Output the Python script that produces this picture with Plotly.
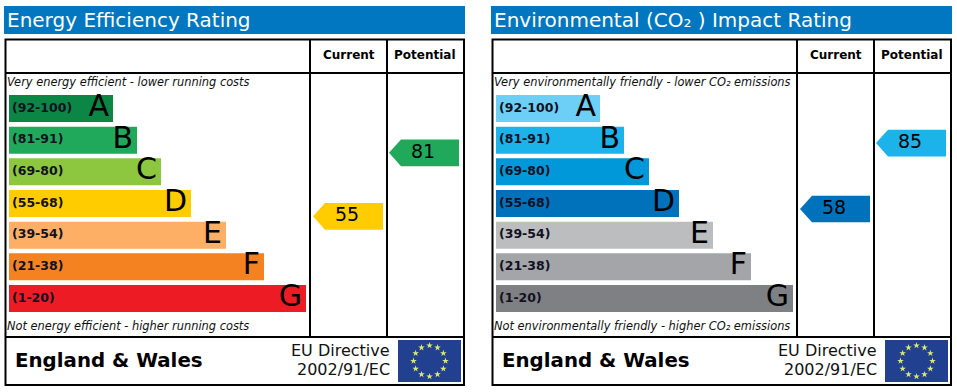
import math
import plotly.graph_objects as go

bands = ["A", "B", "C", "D", "E", "F", "G"]
ranges = ["(92-100)", "(81-91)", "(69-80)", "(55-68)", "(39-54)", "(21-38)", "(1-20)"]
eff_lengths = [104, 128, 152, 182, 217, 255, 297]
env_lengths = [104, 128, 153, 183, 217, 255, 297]
eff_colors = ["#0b8644", "#21a95b", "#8dc63f", "#ffcc00", "#fcaf65", "#f58220", "#ed1c24"]
env_colors = ["#6dcff6", "#1cb3ea", "#0098d8", "#0072bc", "#bbbdbf", "#a3a5a8", "#7f8083"]
eff_current, eff_potential = 55, 81
env_current, env_potential = 58, 85
eff_title = "Energy Efficiency Rating"
env_title = "Environmental (CO₂ ) Impact Rating"
eff_top = "Very energy efficient - lower running costs"
eff_bottom = "Not energy efficient - higher running costs"
env_top = "Very environmentally friendly - lower CO₂ emissions"
env_bottom = "Not environmentally friendly - higher CO₂ emissions"

W, H = 957, 392
FONT = "DejaVu Sans"
BLUE = "#0077c0"
fig = go.Figure()
shapes, notes = [], []


def band_color(score, colors):
    lows = [92, 81, 69, 55, 39, 21, 1]
    for low, c in zip(lows, colors):
        if score >= low:
            return c
    return colors[-1]


def note(x, y, text, size, anchor="left", color="#000000", bold=False, italic=False):
    if bold:
        text = f"<b>{text}</b>"
    if italic:
        text = f"<i>{text}</i>"
    notes.append(dict(x=x, y=y, xref="x", yref="y", text=text, showarrow=False,
                      xanchor=anchor, yanchor="middle", align=anchor,
                      font=dict(family=FONT, size=size, color=color)))


def arrow(score, tip, colors):
    half = 5.47
    xs = [tip, tip + 12, tip + 70, tip + 70, tip + 12, tip]
    ys = [score, score + half, score + half, score - half, score - half, score]
    fig.add_trace(go.Scatter(x=xs, y=ys, yaxis="y3", mode="lines", fill="toself",
                             fillcolor=band_color(score, colors), line=dict(width=0),
                             hoverinfo="skip", showlegend=False))
    fig.add_trace(go.Scatter(x=[tip + 34], y=[score], yaxis="y3", mode="text", text=[str(score)],
                             textposition="middle center",
                             textfont=dict(family=FONT, size=19, color="#000000"),
                             hoverinfo="skip", showlegend=False))


def panel(dx, title, top, bottom, lengths, colors, current, potential):
    shapes.append(dict(type="rect", xref="x", yref="y", x0=4 + dx, x1=465 + dx, y0=6, y1=34,
                       fillcolor=BLUE, line_width=0, layer="below"))
    shapes.append(dict(type="rect", xref="x", yref="y", x0=5.5 + dx, x1=464 + dx, y0=39.5, y1=385,
                       line=dict(color="#000000", width=2), layer="below"))
    for x, y0, y1 in [(310, 39.5, 337), (387, 39.5, 337)]:
        shapes.append(dict(type="line", xref="x", yref="y", x0=x + dx, x1=x + dx, y0=y0, y1=y1,
                           line=dict(color="#000000", width=2), layer="below"))
    for y in (73, 337):
        shapes.append(dict(type="line", xref="x", yref="y", x0=5.5 + dx, x1=464 + dx, y0=y, y1=y,
                           line=dict(color="#000000", width=2), layer="below"))
    note(5 + dx, 20, title, 20, color="#ffffff")
    note(348.5 + dx, 54.5, "Current", 12, "center", bold=True)
    note(425 + dx, 54.5, "Potential", 12, "center", bold=True)
    note(5 + dx, 82, top, 11.4, italic=True, color="#111111")
    note(5 + dx, 326, bottom, 11.4, italic=True, color="#111111")
    note(13 + dx, 360, "England &amp; Wales", 19.8, bold=True)
    note(392 + dx, 350.5, "EU Directive", 16, "right", color="#111111")
    note(392 + dx, 369.5, "2002/91/EC", 16, "right", color="#111111")

    base = 9 + dx
    fig.add_trace(go.Bar(y=bands, x=lengths, base=base, orientation="h", yaxis="y2",
                         marker=dict(color=colors, line_width=0),
                         hoverinfo="skip", showlegend=False))
    fig.add_trace(go.Scatter(x=[base + ln - 4 for ln in lengths], y=bands, yaxis="y2", mode="text",
                             text=bands, textposition="middle left",
                             textfont=dict(family=FONT, size=30, color="#000000"),
                             hoverinfo="skip", showlegend=False))
    fig.add_trace(go.Scatter(x=[base + 3] * 7, y=bands, yaxis="y2", mode="text", text=ranges,
                             textposition="middle right",
                             textfont=dict(family=FONT, size=12.5, color="#111122", weight="bold"),
                             hoverinfo="skip", showlegend=False))
    arrow(current, 313 + dx, colors)
    arrow(potential, 389 + dx, colors)

    # EU flag
    shapes.append(dict(type="rect", xref="x", yref="y", x0=398 + dx, x1=461 + dx, y0=340, y1=382,
                       fillcolor="#21408f", line_width=0, layer="below"))
    stars = [i * 30 for i in range(12)]
    fig.add_trace(go.Scatter(x=[429.5 + dx + 16 * math.sin(math.radians(a)) for a in stars],
                             y=[361 - 15.5 * math.cos(math.radians(a)) for a in stars],
                             mode="markers",
                             marker=dict(symbol="star", size=5, color="#dbe96f", line_width=0),
                             hoverinfo="skip", showlegend=False))


panel(0, eff_title, eff_top, eff_bottom, eff_lengths, eff_colors, eff_current, eff_potential)
panel(487, env_title, env_top, env_bottom, env_lengths, env_colors, env_current, env_potential)

hidden = dict(visible=False, fixedrange=True)
fig.update_layout(
    width=W, height=H, autosize=False,
    margin=dict(l=0, r=0, t=0, b=0),
    paper_bgcolor="#ffffff", plot_bgcolor="rgba(0,0,0,0)",
    barmode="overlay", bargap=1 - 27 / 31.67,
    shapes=shapes, annotations=notes, showlegend=False,
    xaxis=dict(range=[0, W], domain=[0, 1], **hidden),
    yaxis=dict(range=[H, 0], domain=[0, 1], **hidden),
    yaxis2=dict(type="category", categoryorder="array", categoryarray=bands,
                range=[6.5, -0.5], domain=[1 - 314.33 / H, 1 - 92.67 / H],
                anchor="x", **hidden),
    yaxis3=dict(range=[-17.0, 143.65], domain=[0, 1], overlaying="y", anchor="x", **hidden),
)
fig.write_html("out.html", config=dict(displayModeBar=False),
               post_script="document.body.style.margin='0';document.body.style.overflow='hidden';")
